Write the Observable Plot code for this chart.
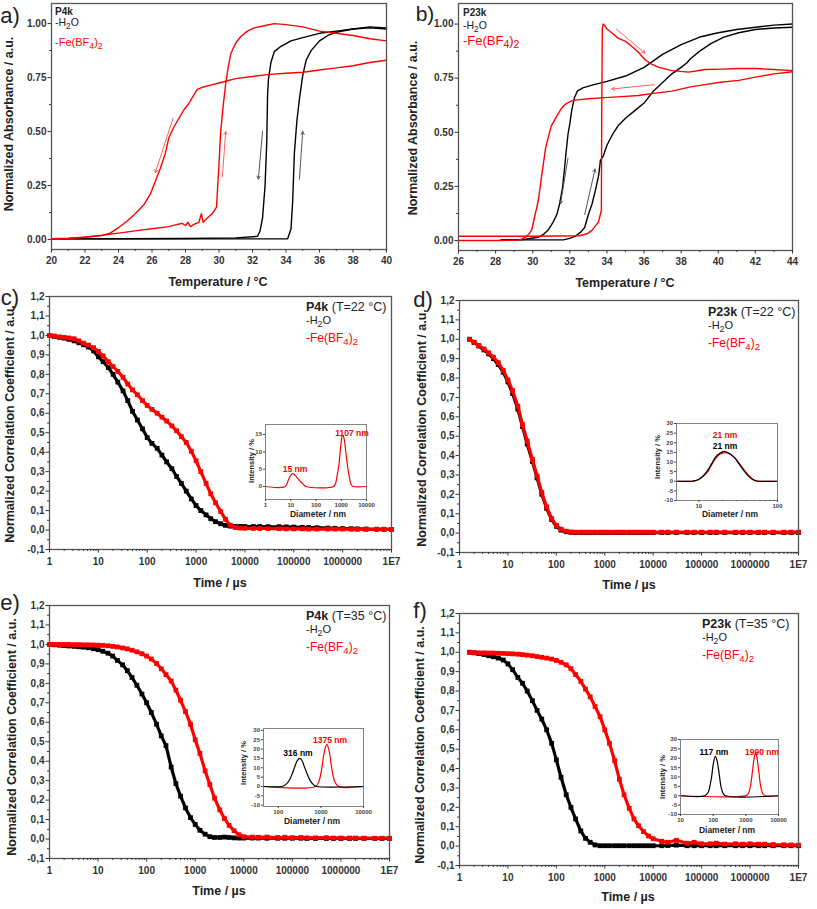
<!DOCTYPE html>
<html><head><meta charset="utf-8">
<script src="https://cdn.jsdelivr.net/npm/d3@7"></script>
<script src="https://cdn.jsdelivr.net/npm/@observablehq/plot@0.6"></script>
<style>
html,body{margin:0;padding:0;background:#fff;}
#fig{position:relative;width:817px;height:909px;overflow:hidden;background:#fff;font-family:"Liberation Sans",Arial,sans-serif;color:#222;}
#fig svg{position:absolute;}
.t{position:absolute;white-space:nowrap;line-height:1;}
sub{font-size:80%;vertical-align:-0.3em;line-height:0;}
</style></head><body><div id="fig"></div>
<script>
// ---------- Panel a (P4k turbidity) ----------
const A_H2O_HEAT_T = [20, 25, 30, 32, 34.1, 34.3, 34.4, 34.5, 34.65, 34.8, 35.0, 35.2, 35.5, 36.0, 36.5, 37.0, 38.0, 39.0, 40.0];
const A_H2O_HEAT_V = [0.003, 0.003, 0.003, 0.003, 0.004, 0.05, 0.18, 0.40, 0.55, 0.65, 0.76, 0.83, 0.875, 0.92, 0.945, 0.96, 0.975, 0.98, 0.975];
const A_H2O_COOL_T = [40, 39, 38, 37, 36, 35, 34.3, 33.7, 33.3, 33.1, 32.95, 32.9, 32.85, 32.75, 32.6, 32.45, 32.3, 31, 28, 24, 20];
const A_H2O_COOL_V = [0.98, 0.985, 0.975, 0.965, 0.955, 0.935, 0.92, 0.895, 0.87, 0.82, 0.74, 0.67, 0.45, 0.25, 0.1, 0.04, 0.015, 0.008, 0.005, 0.004, 0.003];
const A_FE_HEAT_T = [20, 21, 22, 23, 24, 25, 26, 27, 27.5, 27.8, 28.0, 28.15, 28.3, 28.5, 28.8, 28.95, 29.05, 29.3, 29.6, 29.85, 30.0, 30.1, 30.25, 30.4, 30.55, 30.7, 31.0, 31.3, 31.7, 32.1, 32.7, 33.3, 34.0, 35.0, 36.0, 37.0, 38.0, 39.0, 40.0];
const A_FE_HEAT_V = [0.003, 0.005, 0.012, 0.02, 0.03, 0.04, 0.05, 0.06, 0.07, 0.075, 0.065, 0.08, 0.06, 0.07, 0.08, 0.12, 0.08, 0.1, 0.12, 0.15, 0.35, 0.5, 0.62, 0.72, 0.8, 0.86, 0.91, 0.94, 0.965, 0.98, 0.99, 1.0, 0.995, 0.985, 0.965, 0.955, 0.945, 0.93, 0.92];
const A_FE_COOL_T = [40, 39, 38, 37, 36, 35, 34, 33, 32, 31, 30, 29.5, 29, 28.7, 28.5, 28.2, 27.9, 27.6, 27.3, 27.0, 26.8, 26.5, 26.2, 25.9, 25.5, 25.0, 24.5, 24.0, 23.5, 23.0, 22.0, 21.0, 20.0];
const A_FE_COOL_V = [0.83, 0.82, 0.805, 0.795, 0.785, 0.775, 0.77, 0.765, 0.755, 0.745, 0.725, 0.715, 0.705, 0.695, 0.67, 0.63, 0.6, 0.56, 0.52, 0.47, 0.4, 0.33, 0.27, 0.21, 0.16, 0.12, 0.085, 0.055, 0.03, 0.018, 0.01, 0.006, 0.004];
const A_ARROW_RED = {x1: [27.25, 30.2], y1: [0.56, 0.29], x2: [26.2, 30.4], y2: [0.31, 0.50]};
const A_ARROW_BLK = {x1: [32.6, 34.8], y1: [0.50, 0.28], x2: [32.35, 35.0], y2: [0.28, 0.50]};

// ---------- Panel b (P23k turbidity) ----------
const B_H2O_HEAT_T = [28.3, 30, 31.7, 32.0, 32.3, 32.6, 32.8, 33.0, 33.2, 33.4, 33.55, 33.65, 33.8, 34.0, 34.3, 34.6, 35.0, 35.5, 36.0, 36.5, 37.0, 37.5, 38.0, 38.3, 38.5, 39.0, 39.6, 40.3, 41.1, 42.0, 43.0, 44.0];
const B_H2O_HEAT_V = [0.003, 0.003, 0.004, 0.01, 0.02, 0.04, 0.06, 0.12, 0.17, 0.24, 0.3, 0.37, 0.39, 0.44, 0.49, 0.53, 0.565, 0.6, 0.635, 0.69, 0.73, 0.77, 0.8, 0.82, 0.84, 0.875, 0.91, 0.94, 0.96, 0.975, 0.982, 0.985];
const B_H2O_COOL_T = [44, 43, 42, 41, 40, 39, 38, 37, 36, 35, 34, 33.3, 32.7, 32.4, 32.25, 32.1, 32.0, 31.9, 31.8, 31.7, 31.6, 31.45, 31.3, 31.1, 30.85, 30.6, 30.3, 29.5, 28.3];
const B_H2O_COOL_V = [1.0, 0.995, 0.985, 0.975, 0.96, 0.94, 0.905, 0.86, 0.8, 0.76, 0.735, 0.72, 0.705, 0.69, 0.66, 0.6, 0.54, 0.49, 0.41, 0.32, 0.24, 0.17, 0.12, 0.085, 0.05, 0.03, 0.015, 0.005, 0.003];
const B_FE_HEAT_T = [26, 30, 32.5, 32.9, 33.18, 33.54, 33.7, 33.72, 33.75, 33.8, 33.9, 34.0, 34.26, 34.6, 35.0, 35.3, 35.7, 36.05, 36.4, 36.8, 37.5, 38.4, 39.3, 40.2, 41.1, 42, 43, 44];
const B_FE_HEAT_V = [0.02, 0.02, 0.022, 0.03, 0.046, 0.085, 0.14, 0.6, 0.98, 1.0, 0.99, 0.977, 0.96, 0.935, 0.92, 0.9, 0.87, 0.835, 0.815, 0.8, 0.785, 0.778, 0.79, 0.792, 0.795, 0.795, 0.79, 0.785];
const B_FE_COOL_T = [44, 43, 42, 41.1, 40, 39.3, 38.5, 37.5, 36.5, 35.7, 34.8, 33.9, 33, 32.4, 32.1, 31.85, 31.7, 31.55, 31.4, 31.2, 31.0, 30.85, 30.7, 30.6, 30.5, 30.4, 30.3, 30.2, 30.1, 29.95, 29.8, 29.6, 29.4, 29.2, 28, 26];
const B_FE_COOL_V = [0.78, 0.77, 0.755, 0.74, 0.73, 0.72, 0.71, 0.69, 0.68, 0.67, 0.665, 0.66, 0.655, 0.65, 0.645, 0.635, 0.625, 0.61, 0.59, 0.56, 0.53, 0.48, 0.43, 0.37, 0.31, 0.245, 0.185, 0.145, 0.11, 0.05, 0.03, 0.015, 0.006, 0.002, 0.0, 0.0];
const B_ARROW_RED = {x1: [34.5, 36.55], y1: [0.977, 0.72], x2: [36.05, 34.26], y2: [0.866, 0.70]};
const B_ARROW_BLK = {x1: [31.9, 32.8], y1: [0.38, 0.12], x2: [31.5, 33.36], y2: [0.17, 0.33]};

// ---------- DLS correlation functions (panels c-f) ----------
const TIME = [1,1.25,1.6,2,2.5,3.2,4,5,6.3,8, 10,12.5,16,20,25,32,40,50,63,80, 100,125,160,200,250,320,400,500,630,800,
  1000,1250,1600,2000,2500,3200,4000,5000,6300,8000, 10000, 15000,20000,30000,50000,70000, 1e5,1.5e5,2e5,3e5,5e5,7e5, 1e6,1.5e6,2e6,3e6,5e6,7e6,1e7];
const C_H2O = [1.0,0.995,0.99,0.986,0.98,0.972,0.962,0.952,0.94,0.92,
  0.89,0.865,0.835,0.80,0.76,0.715,0.665,0.61,0.565,0.52,
  0.475,0.445,0.42,0.385,0.35,0.315,0.275,0.24,0.2,0.16,
  0.126,0.1,0.078,0.058,0.043,0.032,0.024,0.02,0.019,0.019,
  0.018, 0.018,0.018,0.017,0.017,0.016, 0.015,0.014,0.013,0.012,0.01,0.009, 0.008,0.007,0.006,0.005,0.004,0.004,0.003];
const C_FE = [1.0,0.997,0.993,0.99,0.987,0.983,0.972,0.96,0.95,0.937,
  0.918,0.895,0.865,0.84,0.815,0.785,0.75,0.72,0.695,0.665,
  0.64,0.62,0.6,0.58,0.56,0.535,0.51,0.48,0.45,0.405,
  0.356,0.3,0.24,0.186,0.14,0.095,0.055,0.025,0.013,0.01,
  0.009, 0.008,0.008,0.007,0.007,0.006, 0.006,0.006,0.005,0.005,0.005,0.005, 0.005,0.004,0.004,0.004,0.004,0.003,0.003];
const D_H2O = [null,null,1.0,0.983,0.965,0.945,0.925,0.9,0.87,0.83,
  0.78,0.72,0.64,0.55,0.46,0.37,0.285,0.2,0.128,0.07,
  0.035,0.015,0.007,0.004,0.003,0.003,0.003,0.003,0.003,0.003,
  0.003,0.003,0.003,0.003,0.003,0.003,0.003,0.003,0.003,0.003,
  0.003, 0.003,0.003,0.003,0.003,0.003, 0.003,0.003,0.003,0.003,0.003,0.003, 0.003,0.003,0.003,0.003,0.003,0.003,0.003];
const D_FE = [null,null,1.0,0.985,0.968,0.95,0.93,0.908,0.88,0.84,
  0.79,0.735,0.655,0.56,0.475,0.38,0.295,0.21,0.135,0.075,
  0.04,0.02,0.01,0.006,0.005,0.005,0.005,0.005,0.005,0.005,
  0.005,0.005,0.005,0.005,0.005,0.005,0.005,0.005,0.005,0.005,
  0.005, 0.005,0.005,0.005,0.005,0.005, 0.005,0.005,0.005,0.005,0.005,0.005, 0.005,0.005,0.005,0.005,0.005,0.005,0.005];
const E_H2O = [1.0,0.998,0.996,0.994,0.992,0.99,0.988,0.986,0.983,0.978,
  0.973,0.965,0.955,0.94,0.918,0.895,0.865,0.83,0.79,0.745,
  0.70,0.65,0.59,0.53,0.48,0.37,0.285,0.22,0.16,0.11,
  0.075,0.045,0.025,0.012,0.008,0.008,0.01,0.008,0.006,0.005,
  0.005, 0.005,0.005,0.004,0.004,0.004, 0.004,0.004,0.003,0.003,0.003,0.003, 0.003,0.003,0.003,0.003,0.003,0.003,0.003];
const E_FE = [1.0,1.0,1.0,1.0,1.0,0.999,0.999,0.998,0.998,0.997,
  0.996,0.995,0.993,0.99,0.987,0.982,0.977,0.97,0.962,0.952,
  0.94,0.925,0.902,0.875,0.845,0.812,0.765,0.713,0.655,0.59,
  0.51,0.44,0.35,0.28,0.21,0.15,0.105,0.07,0.043,0.022,
  0.012, 0.01,0.009,0.01,0.008,0.009, 0.007,0.008,0.006,0.006,0.007,0.005, 0.005,0.005,0.005,0.004,0.004,0.004,0.004];
const F_H2O = [null,null,1.0,0.997,0.993,0.988,0.982,0.977,0.97,0.96,
  0.94,0.91,0.87,0.84,0.8,0.75,0.70,0.655,0.60,0.53,
  0.445,0.355,0.265,0.2,0.14,0.078,0.04,0.02,0.006,0.002,
  0.002,0.002,0.002,0.002,0.002,0.002,0.002,0.002,0.002,0.002,
  0.002, 0.002,0.003,0.005,0.002,0.002, 0.002,0.002,0.002,0.002,0.002,0.002, 0.002,0.002,0.002,0.002,0.002,0.002,0.002];
const F_FE = [null,null,1.0,0.998,0.997,0.997,0.996,0.996,0.995,0.994,
  0.993,0.992,0.99,0.988,0.985,0.982,0.978,0.974,0.97,0.965,
  0.958,0.948,0.935,0.915,0.885,0.85,0.81,0.77,0.72,0.667,
  0.6,0.53,0.44,0.345,0.265,0.195,0.14,0.105,0.075,0.052,
  0.038, 0.025,0.02,0.03,0.015,0.02, 0.012,0.012,0.015,0.01,0.012,0.01, 0.012,0.01,0.01,0.008,0.007,0.006,0.005];

// ---------- Insets: size distributions ----------
const C_INS_FE_D = [1, 6, 8, 10, 12, 15, 20, 25, 32, 40, 500, 600, 700, 800, 1000, 1107, 1250, 1600, 2000, 2500, 3000, 10000];
const C_INS_FE_V = [0, 0, 1.8, 3.2, 3.7, 3.2, 2.1, 1.3, 0.6, 0, 0, 1, 3.5, 6, 13, 14.8, 14.2, 8.5, 3.5, 0.5, 0, 0];
const D_INS_H2O_D = [5.2, 8.2, 9, 10, 11.5, 12.8, 14.5, 16.3, 18.5, 20.9, 23.5, 28, 32.5, 37.6, 42.5, 47.9, 52, 55.7, 100];
const D_INS_H2O_V = [0, 0, 0.3, 1, 3, 5.4, 9, 12.5, 14.5, 15.5, 14.8, 12.5, 9, 5.4, 2.8, 1, 0.3, 0, 0];
const D_INS_FE_D = [5.2, 8.3, 9, 10, 11.5, 13, 14.5, 16.5, 18.5, 21.5, 24, 28.5, 33, 38, 43, 48, 53, 58, 100];
const D_INS_FE_V = [0, 0, 0.3, 0.9, 2.8, 5, 8.5, 12, 14, 14.9, 14.5, 12.3, 9, 5.6, 3, 1.2, 0.3, 0, 0];
const E_INS_H2O_D = [45, 120, 150, 180, 210, 250, 280, 316, 360, 400, 480, 580, 700, 800, 10000];
const E_INS_H2O_V = [0, 0, 1.0, 3.2, 6.5, 11.2, 13.8, 15, 13.9, 11.2, 6.6, 2.6, 0.6, 0, 0];
const E_INS_FE_D = [45, 750, 900, 1050, 1200, 1375, 1550, 1800, 2100, 2600, 10000];
const E_INS_FE_V = [0, 0, 2.8, 9.8, 18.2, 22.5, 19.3, 9.8, 2.8, 0, 0];
const F_INS_H2O_D = [10, 55, 70, 80, 90, 100, 117, 135, 155, 175, 200, 240, 10000];
const F_INS_H2O_V = [0, 0, 1.7, 5.4, 10.3, 16.6, 21, 17.8, 10.7, 4.6, 1.4, 0, 0];
const F_INS_FE_D = [10, 1000, 1200, 1400, 1600, 1800, 1990, 2200, 2500, 2900, 3400, 4000, 10000];
const F_INS_FE_V = [0, 0.1, 1.2, 5.7, 13.2, 20.2, 23, 20.3, 12.9, 4.3, 0.8, 0, 0];

// ---------- Tick labels ----------
const A_XTICKS = [20, 22, 24, 26, 28, 30, 32, 34, 36, 38, 40];
const B_XTICKS = [26, 28, 30, 32, 34, 36, 38, 40, 42, 44];
const ABS_YTICKS = [0, 0.25, 0.5, 0.75, 1.0];
const TIME_TICKS = [1, 10, 100, 1000, 10000, 100000, 1000000, 10000000];
const TIME_TICK_LABELS = ["1", "10", "100", "1000", "10000", "100000", "1000000", "1E7"];
const CORR_YTICKS = [-0.1, 0, 0.1, 0.2, 0.3, 0.4, 0.5, 0.6, 0.7, 0.8, 0.9, 1.0, 1.1, 1.2];

// ---------- helpers ----------
const RED = "#ff0000", BLK = "#000000";
const fig = document.getElementById("fig");
const FONT = "'Liberation Sans', Arial, Helvetica, sans-serif";
function pts(X, Y) { const o = []; for (let i = 0; i < X.length; i++) if (Y[i] != null) o.push({x: X[i], y: Y[i]}); return o; }
function arrows(A) { return A.x1.map((v, i) => ({x1: v, y1: A.y1[i], x2: A.x2[i], y2: A.y2[i]})); }
function logMinor(lo, hi) { const o = []; for (let k = lo; k < hi; k++) for (let m = 2; m <= 9; m++) o.push(m * Math.pow(10, k)); return o; }
function minorBetween(arr) { const o = []; for (let i = 0; i < arr.length - 1; i++) o.push((arr[i] + arr[i + 1]) / 2); return o; }

function panel(o) {
  const [l, t, r, b] = o.frame, [pl, pt, pr, pb] = o.pad;
  const col = o.axisColor || "#333";
  const marks = [
    ...o.marks,
    Plot.frame({stroke: o.frameColor || "#555", strokeWidth: o.frameWidth || 1.3}),
    Plot.axisX(o.xminor, {anchor: "bottom", tickSize: o.tick * 0.55, tickFormat: () => "", label: null, color: col}),
    Plot.axisY(o.yminor, {anchor: "left", tickSize: o.tick * 0.55, tickFormat: () => "", label: null, color: col}),
    Plot.axisX(o.xticks, {anchor: "bottom", tickSize: o.tick, tickPadding: o.xpad, tickFormat: o.xfmt, label: null, fontSize: o.fs, fontWeight: "bold", color: col}),
    Plot.axisY(o.yticks, {anchor: "left", tickSize: o.tick, tickPadding: o.ypad, tickFormat: o.yfmt, label: null, fontSize: o.fs, fontWeight: "bold", color: col})
  ];
  const svg = Plot.plot({
    width: r - l + pl + pr, height: b - t + pt + pb,
    marginLeft: pl, marginTop: pt, marginRight: pr, marginBottom: pb,
    x: {type: o.xtype || "linear", domain: o.xdomain},
    y: {domain: o.ydomain},
    style: {background: "transparent", fontFamily: FONT, overflow: "visible"},
    marks
  });
  svg.style.position = "absolute";
  svg.style.left = (l - pl) + "px";
  svg.style.top = (t - pt) + "px";
  svg.style.maxWidth = "none";
  fig.appendChild(svg);
}
function txt(html, x, y, o = {}) {
  const d = document.createElement("div");
  d.className = "t";
  d.innerHTML = html;
  d.style.left = x + "px"; d.style.top = y + "px";
  d.style.fontSize = (o.size || 12) + "px";
  d.style.fontWeight = o.weight || "normal";
  d.style.color = o.color || "#222";
  if (o.family) d.style.fontFamily = o.family;
  let tr = o.anchor === "start" ? "translate(0,0)" : "translate(-50%,-50%)";
  if (o.rotate) tr += " rotate(" + o.rotate + "deg)";
  d.style.transform = tr;
  fig.appendChild(d);
}
function absLines(H, RA, BA) {
  const m = [];
  H.forEach(s => m.push(Plot.line(pts(s[0], s[1]), {x: "x", y: "y", stroke: s[2], strokeWidth: 1.4})));
  m.push(Plot.arrow(arrows(RA), {x1: "x1", y1: "y1", x2: "x2", y2: "y2", stroke: "#ff6060", strokeWidth: 1, headLength: 5}));
  m.push(Plot.arrow(arrows(BA), {x1: "x1", y1: "y1", x2: "x2", y2: "y2", stroke: "#555", strokeWidth: 1, headLength: 5}));
  return m;
}
function corrMarks(V, color) {
  const d = pts(TIME, V);
  return [Plot.line(d, {x: "x", y: "y", stroke: color, strokeWidth: 3.2}),
          Plot.dot(d, {x: "x", y: "y", symbol: "square", r: 2.7, fill: color, stroke: "none"})];
}
const fmt2 = d => d.toFixed(2);
const fmtC = d => d.toFixed(1).replace(".", ",");
const fmtT = d => TIME_TICK_LABELS[TIME_TICKS.indexOf(d)];
const CORR_MINOR = minorBetween(CORR_YTICKS);
const T_MINOR = logMinor(0, 7);

// ---------- Panel a ----------
panel({frame: [51, 3, 386, 249], pad: [48, 3, 10, 24], xdomain: [20, 40], ydomain: [-0.046, 1.093],
  xticks: A_XTICKS, xminor: minorBetween(A_XTICKS), yticks: ABS_YTICKS, yminor: minorBetween(ABS_YTICKS),
  xfmt: d => String(d), yfmt: fmt2, tick: 3.5, xpad: 4, ypad: 1.5, fs: 10,
  marks: absLines([[A_H2O_HEAT_T, A_H2O_HEAT_V, BLK], [A_H2O_COOL_T, A_H2O_COOL_V, BLK],
                   [A_FE_COOL_T, A_FE_COOL_V, RED], [A_FE_HEAT_T, A_FE_HEAT_V, RED]], A_ARROW_RED, A_ARROW_BLK)});
// ---------- Panel b ----------
panel({frame: [458, 3, 792, 250], pad: [48, 3, 10, 24], xdomain: [26, 44], ydomain: [-0.046, 1.095],
  xticks: B_XTICKS, xminor: minorBetween(B_XTICKS), yticks: ABS_YTICKS, yminor: minorBetween(ABS_YTICKS),
  xfmt: d => String(d), yfmt: fmt2, tick: 3.5, xpad: 4, ypad: 1.5, fs: 10,
  marks: absLines([[B_H2O_HEAT_T, B_H2O_HEAT_V, BLK], [B_H2O_COOL_T, B_H2O_COOL_V, BLK],
                   [B_FE_HEAT_T, B_FE_HEAT_V, RED], [B_FE_COOL_T, B_FE_COOL_V, RED]], B_ARROW_RED, B_ARROW_BLK)});
// ---------- Panels c-f ----------
const corrBase = {pad: [46, 3, 12, 24], xtype: "log", xdomain: [1, 1e7], ydomain: [-0.1, 1.2],
  xticks: TIME_TICKS, xminor: T_MINOR, yticks: CORR_YTICKS, yminor: CORR_MINOR,
  xfmt: fmtT, yfmt: fmtC, tick: 3.5, xpad: 5, ypad: 1.5, fs: 10};
panel({...corrBase, frame: [49, 296, 391, 549], marks: [...corrMarks(C_H2O, BLK), ...corrMarks(C_FE, RED)]});
panel({...corrBase, frame: [459, 300, 798, 552], marks: [...corrMarks(D_H2O, BLK), ...corrMarks(D_FE, RED)]});
panel({...corrBase, frame: [49, 605, 389, 858], marks: [...corrMarks(E_H2O, BLK), ...corrMarks(E_FE, RED)]});
panel({...corrBase, frame: [459, 613, 798, 865], marks: [...corrMarks(F_H2O, BLK), ...corrMarks(F_FE, RED)]});

// ---------- Insets ----------
function insLine(D, V, color) { return Plot.line(pts(D, V), {x: "x", y: "y", stroke: color, strokeWidth: 1.2, curve: "catmull-rom"}); }
const insBase = {pad: [16, 2, 4, 12], xtype: "log", tick: 2, xpad: 1.5, ypad: 1.5, fs: 6, frameColor: "#777", frameWidth: 0.9,
  xfmt: d => String(d), yfmt: d => String(d), axisColor: "#444"};
panel({...insBase, frame: [265, 424, 366, 499], xdomain: [1, 10000], ydomain: [-3.75, 17.9],
  xticks: [1, 10, 100, 1000, 10000], xminor: [], yticks: [0, 5, 10, 15], yminor: [],
  marks: [insLine(C_INS_FE_D, C_INS_FE_V, RED)]});
panel({...insBase, frame: [676, 423, 777, 500], xdomain: [5.2, 100], ydomain: [-10, 30],
  xticks: [10, 100], xminor: [20, 30, 40, 50, 60, 70, 80, 90], yticks: [-10, -5, 0, 5, 10, 15, 20, 25, 30], yminor: [],
  marks: [insLine(D_INS_FE_D, D_INS_FE_V, RED), insLine(D_INS_H2O_D, D_INS_H2O_V, BLK)]});
panel({...insBase, frame: [263, 728, 363, 806], xdomain: [45, 10000], ydomain: [-10.7, 31],
  xticks: [100, 1000, 10000], xminor: [], yticks: [-10, -5, 0, 5, 10, 15, 20, 25, 30], yminor: [],
  marks: [insLine(E_INS_FE_D, E_INS_FE_V, RED), insLine(E_INS_H2O_D, E_INS_H2O_V, BLK)]});
panel({...insBase, frame: [680, 739, 778, 814], xdomain: [10, 10000], ydomain: [-10, 30],
  xticks: [10, 100, 1000, 10000], xminor: [], yticks: [-10, -5, 0, 5, 10, 15, 20, 25, 30], yminor: [],
  marks: [insLine(F_INS_FE_D, F_INS_FE_V, RED), insLine(F_INS_H2O_D, F_INS_H2O_V, BLK)]});

// ---------- Texts ----------
const B = "bold";
txt("a)", 10, 16, {size: 22}); txt("b)", 425, 13, {size: 21});
txt("c)", 10, 298, {size: 22}); txt("d)", 423, 300, {size: 22});
txt("e)", 10, 603, {size: 22}); txt("f)", 420, 611, {size: 22});
txt("Temperature / °C", 218, 282, {size: 12.5, weight: B});
txt("Temperature / °C", 625, 283, {size: 12.5, weight: B});
txt("Normalized Absorbance / a.u.", 9, 124, {size: 12.5, weight: B, rotate: -90});
txt("Normalized Absorbance / a.u.", 413, 128, {size: 12.5, weight: B, rotate: -90});
txt("Time / µs", 220, 583, {size: 12.5, weight: B});
txt("Time / µs", 629, 585, {size: 12.5, weight: B});
txt("Time / µs", 219, 891, {size: 12.5, weight: B});
txt("Time / µs", 628, 897, {size: 12.5, weight: B});
txt("Normalized Correlation Coefficient / a.u.", 10, 424, {size: 12.5, weight: B, rotate: -90});
txt("Normalized Correlation Coefficient / a.u.", 422, 428, {size: 12.5, weight: B, rotate: -90});
txt("Normalized Correlation Coefficient / a.u.", 12, 737, {size: 12.5, weight: B, rotate: -90});
txt("Normalized Correlation Coefficient / a.u.", 420, 745, {size: 12.5, weight: B, rotate: -90});
const H2O = "-H<sub>2</sub>O", FEBF = "-Fe(BF<sub>4</sub>)<sub>2</sub>";
txt("P4k", 55, 7, {size: 10, weight: B, anchor: "start"});
txt(H2O, 55, 17, {size: 10.5, anchor: "start"});
txt(FEBF, 55, 37, {size: 11, anchor: "start", color: RED});
txt("P23k", 463, 8, {size: 10, weight: B, anchor: "start"});
txt(H2O, 463, 20, {size: 10.5, anchor: "start"});
txt(FEBF, 463, 34, {size: 13, anchor: "start", color: RED});
function dlsLegend(name, temp, x, y) {
  txt("<b>" + name + "</b> (T=" + temp + " °C)", x, y, {size: 12.5, anchor: "start"});
  txt(H2O, x, y + 14, {size: 11, anchor: "start"});
  txt(FEBF, x, y + 31, {size: 12, anchor: "start", color: RED});
}
dlsLegend("P4k", "22", 306, 301);
dlsLegend("P23k", "22", 708, 306);
dlsLegend("P4k", "35", 306, 610);
dlsLegend("P23k", "35", 702, 618);
function insTitles(dx, dy, ix, iy) {
  txt("Diameter / nm", dx, dy, {size: 8.5, weight: B});
  txt("Intensity / %", ix, iy, {size: 7.5, weight: B, rotate: -90});
}
insTitles(318, 514, 252, 461);
insTitles(730, 514, 658, 457);
insTitles(312, 821, 244, 763);
insTitles(727, 830, 663, 777);
const PK = {size: 8.5, weight: B};
txt("15 nm", 295, 469, {...PK, color: RED}); txt("1107 nm", 352, 433, {...PK, color: RED});
txt("21 nm", 725, 435, {...PK, color: RED}); txt("21 nm", 725, 446, {...PK, color: BLK});
txt("316 nm", 298, 753, {...PK, color: BLK}); txt("1375 nm", 330, 740, {...PK, color: RED});
txt("117 nm", 714, 752, {...PK, color: BLK}); txt("1990 nm", 762, 752, {...PK, color: RED});
</script></body></html>
